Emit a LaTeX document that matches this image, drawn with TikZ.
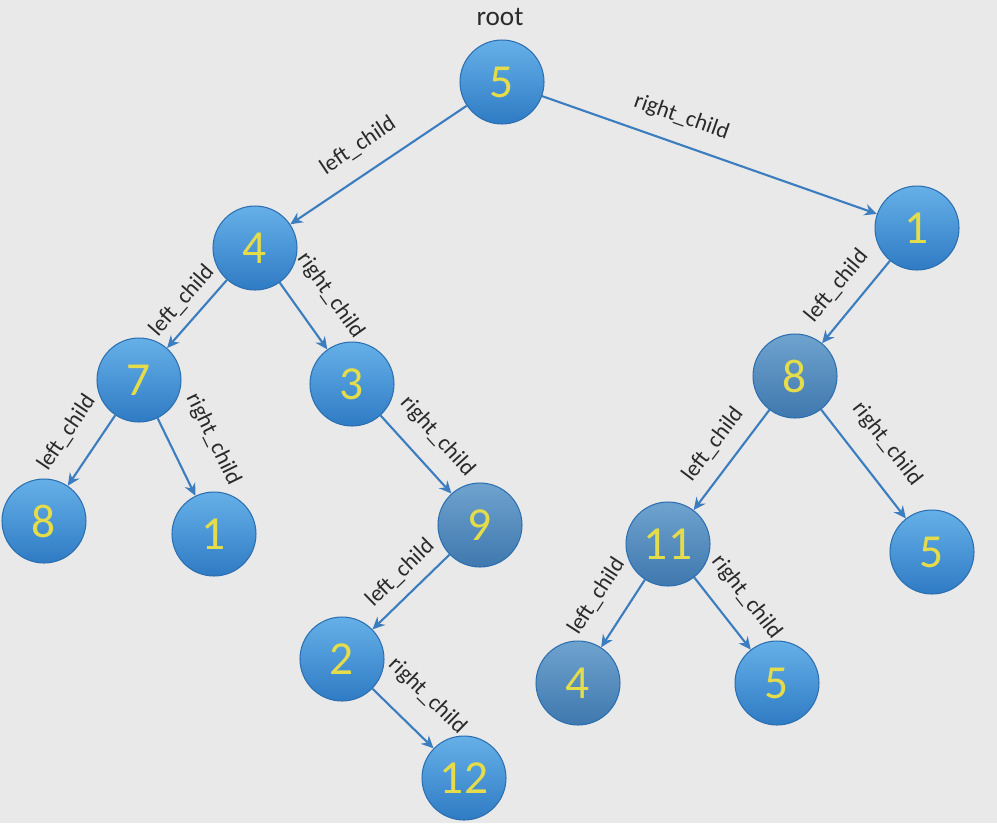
\documentclass[tikz,border=0pt]{standalone}
\usepackage{fontspec}
\setmainfont{Carlito}
\usetikzlibrary{arrows.meta}
\definecolor{bg}{HTML}{E9E9E9}
\definecolor{ctop}{HTML}{66B0E8}
\definecolor{cbot}{HTML}{2F7BC4}
\definecolor{dtop}{HTML}{6FA3CF}
\definecolor{dbot}{HTML}{3F78AE}
\definecolor{cedge}{HTML}{2C6FB0}
\definecolor{numyellow}{HTML}{E4DC4A}
\definecolor{linkc}{HTML}{3B7DBE}
\definecolor{lbl}{HTML}{2A2A2A}
\tikzset{
  ball/.style={circle, minimum size=1.68cm, inner sep=0pt, draw=cedge, line width=0.6pt,
    top color=ctop, bottom color=cbot, text=numyellow, font=\fontsize{27}{27}\selectfont},
  dimball/.style={ball, top color=dtop, bottom color=dbot},
  link/.style={draw=linkc, line width=1.2pt, -{Stealth[length=7pt,width=6.5pt]}},
  elabel/.style={sloped, text=lbl, font=\fontsize{13}{13}\selectfont, inner sep=1pt}
}
\begin{document}
\begin{tikzpicture}[x=0.02cm, y=-0.02cm]
\fill[bg] (0,0) rectangle (997,823);
\useasboundingbox (0,0) rectangle (997,823);

\node[text=lbl, font=\fontsize{15.5}{15.5}\selectfont] (rootlbl) at (500,17) {root};

\node[ball] (n5) at (502,82) {5};
\node[ball] (n4) at (255,248) {4};
\node[ball] (n1r) at (917,228) {1};
\node[ball] (n7) at (139,380) {7};
\node[ball] (n3) at (352,384) {3};
\node[ball] (n8l) at (44,521) {8};
\node[ball] (n1l) at (214,534) {1};
\node[dimball] (n9) at (480,525) {9};
\node[ball] (n2) at (342,659) {2};
\node[ball] (n12) at (464,778) {12};
\node[dimball] (n8r) at (795,376) {8};
\node[ball] (n5r) at (932,552) {5};
\node[dimball] (n11) at (668,544) {11};
\node[dimball] (n4b) at (578,683) {4};
\node[ball] (n5b) at (777,683) {5};

\draw[link] (n5) -- node[elabel, pos=0.53, above=8.6pt] {left\_child} (n4);
\draw[link] (n5) -- node[elabel, pos=0.39, above=7.8pt] {right\_child} (n1r);
\draw[link] (n4) -- node[elabel, pos=0.5, above=4.6pt] {left\_child} (n7);
\draw[link] (n4) -- node[elabel, pos=0.49, above=12pt] {right\_child} (n3);
\draw[link] (n7) -- node[elabel, pos=0.49, above=10.5pt] {left\_child} (n8l);
\draw[link] (n7) -- node[elabel, pos=0.5, above=16pt] {right\_child} (n1l);
\draw[link] (n3) -- node[elabel, pos=0.51, above=8.6pt] {right\_child} (n9);
\draw[link] (n9) -- node[elabel, pos=0.45, above=5.2pt] {left\_child} (n2);
\draw[link] (n2) -- node[elabel, pos=0.52, above=11.5pt] {right\_child} (n12);
\draw[link] (n1r) -- node[elabel, pos=0.5, above=7.5pt] {left\_child} (n8r);
\draw[link] (n8r) -- node[elabel, pos=0.49, above=6.9pt] {left\_child} (n11);
\draw[link] (n8r) -- node[elabel, pos=0.49, above=10.3pt] {right\_child} (n5r);
\draw[link] (n11) -- node[elabel, pos=0.5, above=11pt] {left\_child} (n4b);
\draw[link] (n11) -- node[elabel, pos=0.52, above=9.2pt] {right\_child} (n5b);
\end{tikzpicture}
\end{document}
